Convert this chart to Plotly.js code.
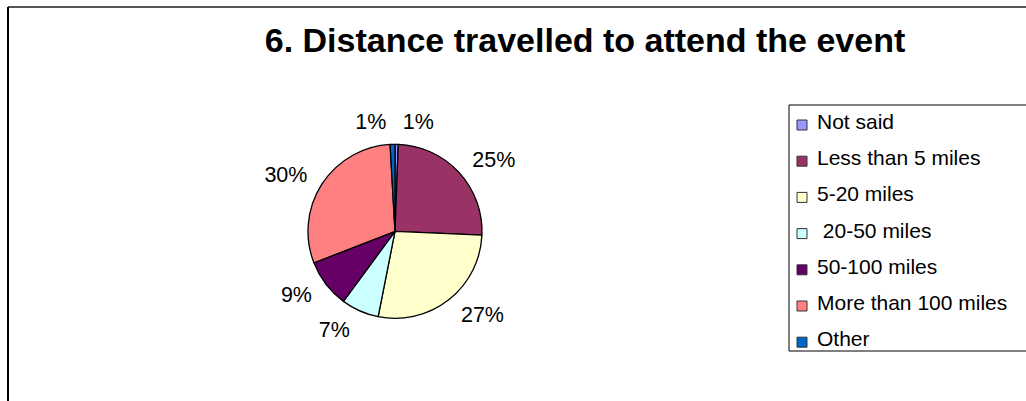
<!DOCTYPE html>
<html>
<head>
<meta charset="utf-8">
<script src="https://cdn.plot.ly/plotly-3.0.1.min.js"></script>
<style>html,body{margin:0;padding:0;background:#fff;}#chart{width:1026px;height:401px;}</style>
</head>
<body>
<div id="chart"></div>
<script>
// Data
const categories = ['Not said', 'Less than 5 miles', '5-20 miles', ' 20-50 miles', '50-100 miles', 'More than 100 miles', 'Other'];
const shares = [0.6, 25.1, 27.4, 7.0, 9.0, 30.0, 0.9];
const sliceColors = ['#9999FF', '#993366', '#FFFFCC', '#CCFFFF', '#660066', '#FF8080', '#0066CC'];
const chartTitle = '6. Distance travelled to attend the event';

const W = 1026, H = 401;
const px = x => x / W;
const py = y => 1 - y / H;
const FONT = 'Liberation Sans, Arial, sans-serif';

const cx = 395, cy = 231.3, r = 87, rLabel = 97;

const pieTrace = {
  type: 'pie',
  labels: categories,
  values: shares,
  sort: false,
  direction: 'clockwise',
  rotation: 0,
  marker: { colors: sliceColors, line: { color: '#000000', width: 1.3 } },
  textinfo: 'none',
  domain: { x: [px(cx - r), px(cx + r)], y: [py(cy + r), py(cy - r)] },
  automargin: false,
  showlegend: false,
  hoverinfo: 'label+percent'
};

// same data, transparent, slightly larger: carries the outside percentage labels
const labelTrace = {
  type: 'pie',
  labels: categories,
  values: shares,
  sort: false,
  direction: 'clockwise',
  rotation: 0,
  marker: { colors: categories.map(() => 'rgba(0,0,0,0)'), line: { width: 0 } },
  texttemplate: '%{percent:.0%}',
  textposition: 'outside',
  outsidetextfont: { family: FONT, size: 21.5, color: '#000' },
  domain: { x: [px(cx - rLabel), px(cx + rLabel)], y: [py(cy + rLabel), py(cy - rLabel)] },
  automargin: false,
  showlegend: false,
  hoverinfo: 'skip'
};

const shapes = [
  // outer chart frame
  { type: 'line', xref: 'paper', yref: 'paper', x0: px(8), x1: 1.01, y0: py(7), y1: py(7), line: { color: '#555', width: 2 } },
  { type: 'line', xref: 'paper', yref: 'paper', x0: px(8), x1: px(8), y0: py(7), y1: -0.01, line: { color: '#000', width: 2 } },
  // legend box
  { type: 'rect', xref: 'paper', yref: 'paper', x0: px(789), x1: 1.01, y0: py(351), y1: py(105), line: { color: '#000', width: 1 }, fillcolor: 'rgba(0,0,0,0)' }
];
const annotations = [];
const legTop = 124, legStep = 36.2;
categories.forEach((c, i) => {
  const yc = legTop + i * legStep;
  shapes.push({ type: 'rect', xref: 'paper', yref: 'paper', x0: px(797), x1: px(807), y0: py(yc + 6), y1: py(yc - 4), fillcolor: sliceColors[i], line: { color: '#333', width: 1 } });
  annotations.push({ xref: 'paper', yref: 'paper', x: px(815), y: py(yc - 2.5), xanchor: 'left', yanchor: 'middle', showarrow: false, text: c.replace(/^ /, '&nbsp;'), font: { family: FONT, size: 21, color: '#000' } });
});

const layout = {
  width: W, height: H,
  margin: { l: 0, r: 0, t: 0, b: 0 },
  paper_bgcolor: '#fff',
  title: { text: '<b>' + chartTitle + '</b>', x: px(585), y: py(40), xref: 'paper', yref: 'paper', xanchor: 'center', yanchor: 'middle', font: { family: FONT, size: 34, color: '#000' } },
  showlegend: false,
  shapes: shapes,
  annotations: annotations
};

Plotly.newPlot('chart', [labelTrace, pieTrace], layout, { displayModeBar: false, staticPlot: true });
</script>
</body>
</html>
